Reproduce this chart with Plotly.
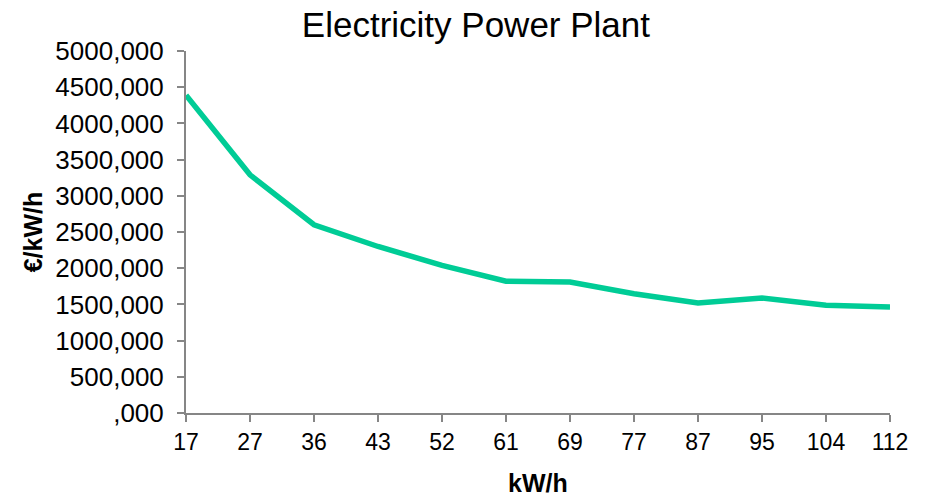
import plotly.graph_objects as go

categories = ["17", "27", "36", "43", "52", "61", "69", "77", "87", "95", "104", "112"]
values = [4390, 3290, 2600, 2300, 2040, 1820, 1810, 1648, 1519, 1588, 1487, 1465]
y_tickvals = [0, 500, 1000, 1500, 2000, 2500, 3000, 3500, 4000, 4500, 5000]
y_ticktext = [",000", "500,000", "1000,000", "1500,000", "2000,000", "2500,000",
              "3000,000", "3500,000", "4000,000", "4500,000", "5000,000"]

FONT = "Liberation Sans, Arial, sans-serif"
AXIS_COLOR = "#868686"

fig = go.Figure()
fig.add_trace(go.Scatter(
    x=categories, y=values, mode="lines",
    line=dict(color="#00CC96", width=5.5),
    showlegend=False, hoverinfo="x+y",
))

fig.update_layout(
    width=935, height=498,
    margin=dict(l=186, r=45, t=51, b=85),
    paper_bgcolor="white", plot_bgcolor="white",
    font=dict(family=FONT, color="black", size=24),
    title=dict(text="Electricity Power Plant", x=0.509, xanchor="center", xref="container",
               y=0.951, yref="container", yanchor="middle",
               font=dict(size=35, family=FONT, color="black")),
    annotations=[dict(
        text="<b>kW/h</b>", xref="paper", yref="paper", x=0.5, y=-0.193,
        xanchor="center", yanchor="middle", showarrow=False,
        font=dict(size=25, family=FONT, color="black"),
    )],
)

fig.update_xaxes(
    type="category", range=[0, len(categories) - 1],
    showline=True, linecolor=AXIS_COLOR, linewidth=2,
    ticks="outside", ticklen=7, tickcolor=AXIS_COLOR, tickwidth=2,
    showgrid=False, zeroline=False, automargin=False,
    tickfont=dict(size=23, family=FONT),
)
fig.update_yaxes(
    range=[0, 5000], tickvals=y_tickvals, ticktext=y_ticktext,
    showline=True, linecolor=AXIS_COLOR, linewidth=2,
    ticks="outside", ticklen=7, tickcolor=AXIS_COLOR, tickwidth=2,
    ticklabelstandoff=8,
    showgrid=False, zeroline=False,
    tickfont=dict(size=26, family=FONT),
    title=dict(text="<b>€/kW/h</b>", font=dict(size=25, family=FONT), standoff=6),
)

fig.write_html("out.html", config={"displayModeBar": False},
               post_script="document.body.style.margin='0';")
